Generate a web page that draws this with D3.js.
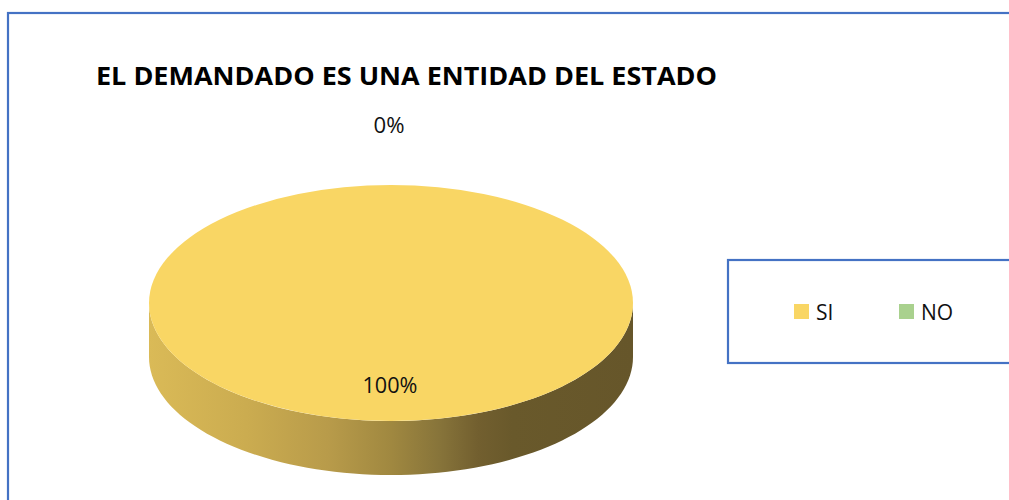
<!DOCTYPE html>
<html>
<head>
<meta charset="utf-8">
<script src="https://cdn.jsdelivr.net/npm/d3@7"></script>
<style>
  html, body { margin: 0; padding: 0; background: #fff; }
  svg { display: block; }
</style>
</head>
<body>
<svg id="chart" width="1009" height="500"></svg>
<script>
const categories = ["SI", "NO"];
const values = [100, 0];
const valueLabels = ["100%", "0%"];
const title = "EL DEMANDADO ES UNA ENTIDAD DEL ESTADO";

const colors = { SI: "#F9D664", NO: "#A9D18E" };

const svg = d3.select("#chart");

// Chart border (cropped on right/bottom)
svg.append("rect")
  .attr("x", 8).attr("y", 13)
  .attr("width", 1100).attr("height", 600)
  .attr("fill", "#fff").attr("stroke", "#4472C4").attr("stroke-width", 2.2);

// Title
svg.append("text")
  .attr("x", 96).attr("y", 85)
  .attr("font-family", "'Open Sans', sans-serif")
  .attr("font-weight", 700)
  .attr("font-size", 25.5)
  .attr("fill", "#000")
  .attr("textLength", 621)
  .attr("lengthAdjust", "spacingAndGlyphs")
  .text(title);

// 3D pie geometry
const cx = 391, cy = 303, rx = 242, ry = 118, depth = 54;
const pie = d3.pie().sort(null).value(d => d.value);
const data = categories.map((c, i) => ({ cat: c, value: values[i], label: valueLabels[i] }));
const arcs = pie(data);

const pt = (a, dy = 0) => [cx + rx * Math.sin(a), cy - ry * Math.cos(a) + dy];

// gradient for side
const defs = svg.append("defs");
const grad = defs.append("linearGradient")
  .attr("id", "sideGrad")
  .attr("gradientUnits", "userSpaceOnUse")
  .attr("x1", cx - rx).attr("x2", cx + rx).attr("y1", 0).attr("y2", 0);
[[0, "#DABA57"], [0.2, "#CBAC50"], [0.37, "#B89B4A"], [0.5, "#A08840"], [0.6, "#87743A"], [0.68, "#725F2F"], [0.75, "#69592B"], [1, "#66562A"]]
  .forEach(([o, c]) => grad.append("stop").attr("offset", o).attr("stop-color", c));

const gSide = svg.append("g");
const gTop = svg.append("g");

arcs.forEach(a => {
  if (a.endAngle - a.startAngle <= 0) return;
  // side: front half (angles between PI/2 and 3PI/2)
  const s = Math.max(a.startAngle, Math.PI / 2);
  const e = Math.min(a.endAngle, 3 * Math.PI / 2);
  if (e > s) {
    const n = 80;
    const topPts = d3.range(n + 1).map(i => pt(s + (e - s) * i / n));
    const botPts = d3.range(n + 1).map(i => pt(e - (e - s) * i / n, depth));
    gSide.append("path")
      .attr("d", d3.line()(topPts.concat(botPts)) + "Z")
      .attr("fill", a.data.cat === "SI" ? "url(#sideGrad)" : d3.color(colors[a.data.cat]).darker(1));
  }
  // top face
  const full = a.endAngle - a.startAngle >= 2 * Math.PI - 1e-9;
  if (full) {
    gTop.append("ellipse").attr("cx", cx).attr("cy", cy).attr("rx", rx).attr("ry", ry)
      .attr("fill", colors[a.data.cat]);
  } else {
    const n = 120;
    const p = [[cx, cy]].concat(d3.range(n + 1).map(i => pt(a.startAngle + (a.endAngle - a.startAngle) * i / n)));
    gTop.append("path").attr("d", d3.line()(p) + "Z").attr("fill", colors[a.data.cat]);
  }
});

// Data labels
const labelFont = "'Open Sans', sans-serif";
svg.append("text")
  .attr("x", 390).attr("y", 393)
  .attr("text-anchor", "middle")
  .attr("font-family", labelFont).attr("font-size", 21.5).attr("fill", "#111")
  .attr("textLength", 55).attr("lengthAdjust", "spacingAndGlyphs")
  .text(data[0].label);
svg.append("text")
  .attr("x", 389).attr("y", 133)
  .attr("text-anchor", "middle")
  .attr("font-family", labelFont).attr("font-size", 21.5).attr("fill", "#111")
  .attr("textLength", 31).attr("lengthAdjust", "spacingAndGlyphs")
  .text(data[1].label);

// Legend
svg.append("rect")
  .attr("x", 728).attr("y", 260).attr("width", 400).attr("height", 103)
  .attr("fill", "#fff").attr("stroke", "#4472C4").attr("stroke-width", 2.2);

const legendX = d3.scaleOrdinal().domain(categories).range([794, 899]);
const lg = svg.append("g").selectAll("g").data(categories).join("g")
  .attr("transform", d => `translate(${legendX(d)},304)`);
lg.append("rect").attr("width", 15).attr("height", 15).attr("fill", d => colors[d]);
lg.append("text")
  .attr("x", 22).attr("y", 15.5)
  .attr("font-family", labelFont).attr("font-size", 21).attr("fill", "#111")
  .text(d => d);
</script>
</body>
</html>
